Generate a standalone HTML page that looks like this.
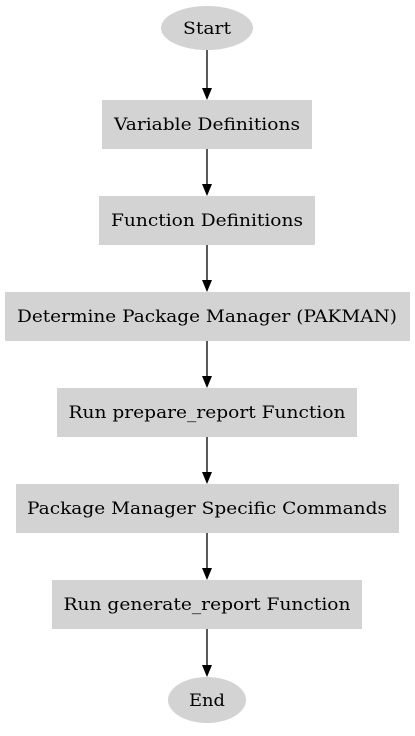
<!DOCTYPE html>
<html><head><meta charset="utf-8"><style>html,body{margin:0;padding:0;background:#fff}</style></head>
<body>
<svg width="415" height="731" viewBox="0 0 415 731" xmlns="http://www.w3.org/2000/svg" font-family="'DejaVu Serif','Liberation Serif',serif" font-size="17">
<g fill="#d3d3d3">
<ellipse cx="207" cy="28" rx="46" ry="22"/>
<rect x="102" y="100" width="210" height="49"/>
<rect x="99" y="196" width="216" height="49"/>
<rect x="5" y="292" width="405" height="49"/>
<rect x="57" y="388" width="300" height="49"/>
<rect x="16" y="484" width="383" height="49"/>
<rect x="52" y="580" width="310" height="49"/>
<ellipse cx="207" cy="700" rx="39" ry="23"/>
</g>
<g stroke="#000" stroke-width="1.3">
<line x1="207" y1="50" x2="207" y2="90"/>
<line x1="207" y1="149" x2="207" y2="186"/>
<line x1="207" y1="245" x2="207" y2="282"/>
<line x1="207" y1="341" x2="207" y2="378"/>
<line x1="207" y1="437" x2="207" y2="474"/>
<line x1="207" y1="533" x2="207" y2="570"/>
<line x1="207" y1="629" x2="207" y2="667"/>
</g>
<g fill="#000">
<polygon points="202,88 212,88 207,100"/>
<polygon points="202,184 212,184 207,196"/>
<polygon points="202,280 212,280 207,292"/>
<polygon points="202,376 212,376 207,388"/>
<polygon points="202,472 212,472 207,484"/>
<polygon points="202,568 212,568 207,580"/>
<polygon points="202,665 212,665 207,677"/>
</g>
<g fill="#000" text-anchor="middle">
<text x="207" y="34" textLength="48" lengthAdjust="spacingAndGlyphs">Start</text>
<text x="207" y="130" textLength="186" lengthAdjust="spacingAndGlyphs">Variable Definitions</text>
<text x="207" y="226" textLength="192" lengthAdjust="spacingAndGlyphs">Function Definitions</text>
<text x="207" y="322" textLength="380" lengthAdjust="spacingAndGlyphs">Determine Package Manager (PAKMAN)</text>
<text x="207" y="418" textLength="277" lengthAdjust="spacingAndGlyphs">Run prepare_report Function</text>
<text x="207" y="514" textLength="360" lengthAdjust="spacingAndGlyphs">Package Manager Specific Commands</text>
<text x="207" y="610" textLength="287" lengthAdjust="spacingAndGlyphs">Run generate_report Function</text>
<text x="207" y="706" textLength="36" lengthAdjust="spacingAndGlyphs">End</text>
</g>
</svg>
</body></html>
